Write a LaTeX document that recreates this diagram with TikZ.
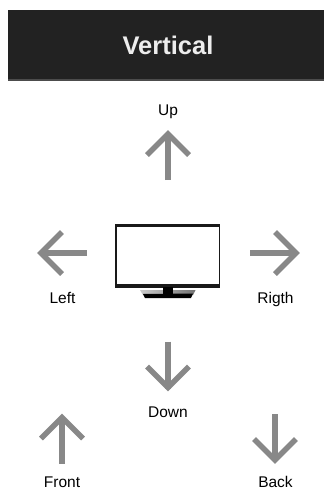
\documentclass[tikz,border=0pt]{standalone}
\usepackage{fontspec}
\setmainfont{Liberation Sans}
\definecolor{bar}{HTML}{222222}
\definecolor{arrowgrey}{HTML}{888888}
\tikzset{
  icon/.style={draw=arrowgrey,line width=5.6pt,line join=miter,line cap=butt},
  lbl/.style={font=\fontsize{15.5}{18}\selectfont,text=black,inner sep=0pt,anchor=base},
  arrowicon/.pic={
    \draw[icon] (0,49) -- (0,2);
    \draw[icon] (-21,24) -- (0,3) -- (21,24);
  }
}
\begin{document}
\begin{tikzpicture}[x=1pt,y=-1pt]
\useasboundingbox (0,0) rectangle (324,490);
\fill[white] (0,0) rectangle (324,490);
% header
\fill[bar] (8,10) rectangle (324,80);
\fill[black!70] (8,79.3) rectangle (324,80.6);
\node[font=\bfseries\fontsize{25.5}{30}\selectfont,text=white!93!black,inner sep=0pt] (title) at (168,45) {Vertical};
% arrows
\pic at (168,131) {arrowicon};
\pic[rotate=180] at (168,390.5) {arrowicon};
\pic at (62,414.5) {arrowicon};
\pic[rotate=180] at (275,463) {arrowicon};
\pic[rotate=90] at (38,253) {arrowicon};
\pic[rotate=-90] at (299,253) {arrowicon};
% labels
\node[lbl] (up) at (168,115) {Up};
\node[lbl] (left) at (62.5,303) {Left};
\node[lbl] (right) at (275.5,303) {Rigth};
\node[lbl] (down) at (168,417) {Down};
\node[lbl] (front) at (62,487) {Front};
\node[lbl] (back) at (275.5,487) {Back};
% television
\fill[black!90] (115,224.3) rectangle (220.3,287.8);
\fill[white] (117,226.5) rectangle (218.5,284);
\path[left color=black!20,right color=black!55] (140,290) -- (195.5,290) -- (193,295) -- (143,295) -- cycle;
\fill[black] (143,294) -- (193,293.5) -- (191,298) -- (145,298) -- cycle;
\fill[black] (163,287) rectangle (172.5,295);
\end{tikzpicture}
\end{document}
